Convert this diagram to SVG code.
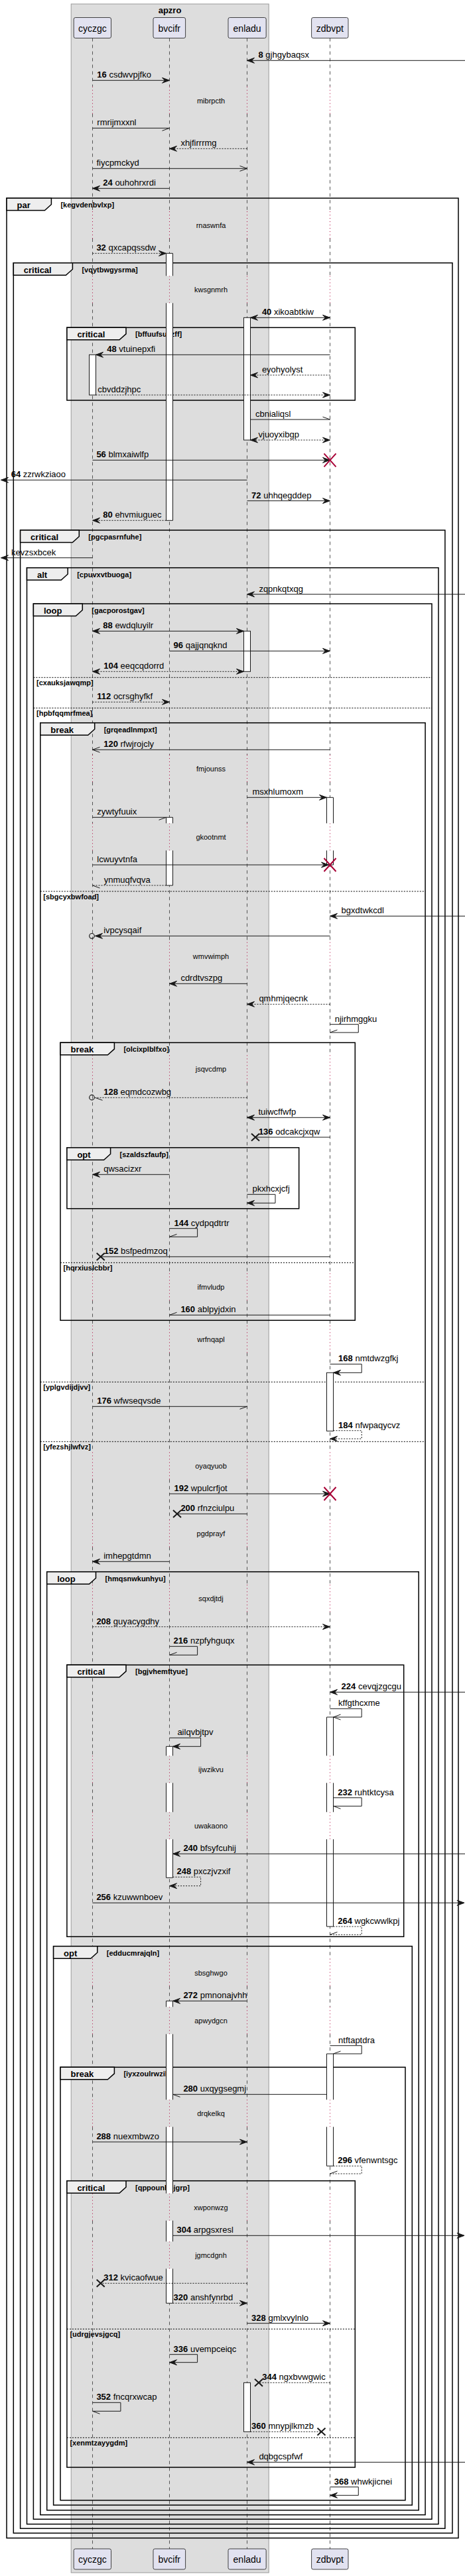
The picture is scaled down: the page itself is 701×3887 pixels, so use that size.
<svg xmlns="http://www.w3.org/2000/svg" xmlns:xlink="http://www.w3.org/1999/xlink" width="701" height="3887" viewBox="0 0 701 3887">
<style>
.t{font-family:"Liberation Sans",Arial,sans-serif;font-size:13px;fill:#000}
.b{font-weight:bold}
.dt{font-family:"Liberation Sans",Arial,sans-serif;font-size:11px;fill:#000;text-anchor:middle}
.pn{font-family:"Liberation Sans",Arial,sans-serif;font-size:14px;fill:#000;text-anchor:middle}
.kw{font-family:"Liberation Sans",Arial,sans-serif;font-size:13px;font-weight:bold;fill:#000}
.cd{font-family:"Liberation Sans",Arial,sans-serif;font-size:11px;font-weight:bold;fill:#000}
.ll{fill:none;stroke:#555;stroke-width:1;stroke-dasharray:5,5}
.dl{fill:none;stroke:#B0003A;stroke-width:1;stroke-dasharray:1,4}
.m{fill:none;stroke:#181818;stroke-width:1}
.d{stroke-dasharray:2,2}
.fr{fill:none;stroke:#000;stroke-width:1.5}
.tab{fill:#EEEEEE;stroke:#000;stroke-width:1.5}
.el{fill:none;stroke:#000;stroke-width:1;stroke-dasharray:2,2}
.aw{fill:#fff;stroke:none}
.as{fill:none;stroke:#181818;stroke-width:1}
.ab{fill:#fff;stroke:#181818;stroke-width:1}
.part{fill:#E2E2F0;stroke:#181818;stroke-width:0.8}
.rx{fill:none;stroke:#A80036;stroke-width:2}
.bx{fill:none;stroke:#181818;stroke-width:2}
</style>
<defs>
<marker id="f" markerUnits="userSpaceOnUse" markerWidth="14" markerHeight="12" refX="11" refY="5" orient="auto" overflow="visible"><path d="M0,1 L11,5 L0,9 L4,5 Z" fill="#181818" stroke="#181818" stroke-width="1"/></marker>
<marker id="fs" markerUnits="userSpaceOnUse" markerWidth="14" markerHeight="12" refX="11" refY="5" orient="auto-start-reverse" overflow="visible"><path d="M0,1 L11,5 L0,9 L4,5 Z" fill="#181818" stroke="#181818" stroke-width="1"/></marker>
<marker id="o" markerUnits="userSpaceOnUse" markerWidth="14" markerHeight="12" refX="11" refY="5" orient="auto" overflow="visible"><path d="M0,1 L11,5 L0,9" fill="none" stroke="#181818" stroke-width="1"/></marker>
<marker id="hp" markerUnits="userSpaceOnUse" markerWidth="14" markerHeight="12" refX="11" refY="5" orient="auto" overflow="visible"><path d="M0,9 L11,5" fill="none" stroke="#181818" stroke-width="1"/></marker>
<marker id="hn" markerUnits="userSpaceOnUse" markerWidth="14" markerHeight="12" refX="11" refY="5" orient="auto" overflow="visible"><path d="M0,1 L11,5" fill="none" stroke="#181818" stroke-width="1"/></marker>
<path id="lld" d="M0,57.5V130.7M0,171.7V319M0,360V416.3M0,457.3V1139M0,1180V1242.3M0,1283.3V1421.7M0,1462.7V1592.3M0,1633.3V1921.3M0,1962.3V2000.3M0,2041.3V2191.3M0,2232.3V2293.3M0,2334.3V2391.3M0,2432.3V2649.3M0,2690.3V2734.3M0,2775.3V2955.7M0,2996.7V3028.3M0,3069.3V3168.3M0,3209.3V3309.7M0,3350.7V3382.3M0,3423.3V3846"/>
<path id="lldot" d="M0,130.7V171.7M0,319V360M0,416.3V457.3M0,1139V1180M0,1242.3V1283.3M0,1421.7V1462.7M0,1592.3V1633.3M0,1921.3V1962.3M0,2000.3V2041.3M0,2191.3V2232.3M0,2293.3V2334.3M0,2391.3V2432.3M0,2649.3V2690.3M0,2734.3V2775.3M0,2955.7V2996.7M0,3028.3V3069.3M0,3168.3V3209.3M0,3309.7V3350.7M0,3382.3V3423.3"/>
</defs>
<rect width="701" height="3887" fill="#fff"/>
<g id="box-apzro">
<rect x="107.2" y="6" width="298" height="3876" fill="#DDDDDD" stroke="#999" stroke-width="1"/>
<text class="kw" x="256" y="19.5" text-anchor="middle">apzro</text>
</g>
<g id="lifelines">
<use href="#lld" class="ll" x="139.5"/><use href="#lld" class="ll" x="255.5"/><use href="#lld" class="ll" x="372.5"/><use href="#lld" class="ll" x="497.5"/>
<use href="#lldot" class="dl" x="139.5"/><use href="#lldot" class="dl" x="255.5"/><use href="#lldot" class="dl" x="372.5"/><use href="#lldot" class="dl" x="497.5"/>
</g>
<g id="delays">
<text class="dt" x="318" y="155.7">mibrpcth</text>
<text class="dt" x="318" y="344">rnaswnfa</text>
<text class="dt" x="318" y="441.3">kwsgnmrh</text>
<text class="dt" x="318" y="1164">fmjounss</text>
<text class="dt" x="318" y="1267.3">gkootnmt</text>
<text class="dt" x="318" y="1446.7">wmvwimph</text>
<text class="dt" x="318" y="1617.3">jsqvcdmp</text>
<text class="dt" x="318" y="1946.3">ifmvludp</text>
<text class="dt" x="318" y="2025.3">wrfnqapl</text>
<text class="dt" x="318" y="2216.3">oyaqyuob</text>
<text class="dt" x="318" y="2318.3">pgdprayf</text>
<text class="dt" x="318" y="2416.3">sqxdjtdj</text>
<text class="dt" x="318" y="2674.3">ijwzikvu</text>
<text class="dt" x="318" y="2759.3">uwakaono</text>
<text class="dt" x="318" y="2980.7">sbsghwgo</text>
<text class="dt" x="318" y="3053.3">apwydgcn</text>
<text class="dt" x="318" y="3193.3">drqkelkq</text>
<text class="dt" x="318" y="3334.7">xwponwzg</text>
<text class="dt" x="318" y="3407.3">jgmcdgnh</text>
</g>
<g id="frames">
<rect class="fr" x="10" y="299" width="681" height="3530.7"/><path class="tab" d="M10,299H77.4V308.5L67.4,317.5H10Z"/><text class="kw" x="25.5" y="314">par</text><text class="cd" x="91.4" y="313">[kegvdenbvlxp]</text>
<rect class="fr" x="20.3" y="396.7" width="661.7" height="3425.6"/><path class="tab" d="M20.3,396.7H109.4V406.2L99.4,415.2H20.3Z"/><text class="kw" x="35.8" y="411.7">critical</text><text class="cd" x="123.4" y="410.7">[vqytbwgysrma]</text>
<rect class="fr" x="100.9" y="494.3" width="434.4" height="109.7"/><path class="tab" d="M100.9,494.3H190V503.8L180,512.8H100.9Z"/><text class="kw" x="116.4" y="509.3">critical</text><text class="cd" x="204" y="508.3">[bffuufsuvzff]</text>
<rect class="fr" x="30.6" y="800" width="640.3" height="3015.3"/><path class="tab" d="M30.6,800H119.3V809.5L109.3,818.5H30.6Z"/><text class="kw" x="46.1" y="815">critical</text><text class="cd" x="133.3" y="814">[pgcpasrnfuhe]</text>
<rect class="fr" x="40.5" y="856.7" width="620.5" height="2952"/><path class="tab" d="M40.5,856.7H102.2V866.2L92.2,875.2H40.5Z"/><text class="kw" x="56" y="871.7">alt</text><text class="cd" x="116.2" y="870.7">[cpuvxvtbuoga]</text>
<rect class="fr" x="50.4" y="911" width="600.6" height="2890.3"/><path class="tab" d="M50.4,911H124.3V920.5L114.3,929.5H50.4Z"/><text class="kw" x="65.9" y="926">loop</text><text class="cd" x="138.3" y="925">[gacporostgav]</text>
<line class="el" x1="50.4" y1="1022.3" x2="651" y2="1022.3"/><text class="cd" x="55" y="1034.3">[cxauksjawqmp]</text>
<line class="el" x1="50.4" y1="1068.3" x2="651" y2="1068.3"/><text class="cd" x="55" y="1080.3">[hpbfqqmrfmea]</text>
<rect class="fr" x="60.8" y="1090.7" width="580.3" height="2704"/><path class="tab" d="M60.8,1090.7H142.7V1100.2L132.7,1109.2H60.8Z"/><text class="kw" x="76.3" y="1105.7">break</text><text class="cd" x="156.7" y="1104.7">[grqeadlnmpxt]</text>
<line class="el" x1="60.8" y1="1345" x2="641.1" y2="1345"/><text class="cd" x="65.3" y="1357">[sbgcyxbwfoad]</text>
<line class="el" x1="60.8" y1="2085.3" x2="641.1" y2="2085.3"/><text class="cd" x="65.3" y="2097.3">[yplgvdijdjvv]</text>
<line class="el" x1="60.8" y1="2175.3" x2="641.1" y2="2175.3"/><text class="cd" x="65.3" y="2187.3">[yfezshjlwfvz]</text>
<rect class="fr" x="91" y="1573.3" width="444.3" height="419"/><path class="tab" d="M91,1573.3H172.4V1582.8L162.4,1591.8H91Z"/><text class="kw" x="106.5" y="1588.3">break</text><text class="cd" x="186.4" y="1587.3">[olcixplblfxo]</text>
<line class="el" x1="91" y1="1905.3" x2="535.3" y2="1905.3"/><text class="cd" x="95.5" y="1917.3">[hqrxiuslcbbr]</text>
<rect class="fr" x="100.9" y="1731.7" width="349.8" height="92"/><path class="tab" d="M100.9,1731.7H166.6V1741.2L156.6,1750.2H100.9Z"/><text class="kw" x="116.4" y="1746.7">opt</text><text class="cd" x="180.6" y="1745.7">[szaldszfaufp]</text>
<rect class="fr" x="70.7" y="2371.7" width="560.5" height="1416"/><path class="tab" d="M70.7,2371.7H144.5V2381.2L134.5,2390.2H70.7Z"/><text class="kw" x="86.2" y="2386.7">loop</text><text class="cd" x="158.5" y="2385.7">[hmqsnwkunhyu]</text>
<rect class="fr" x="100.9" y="2512.3" width="507.8" height="410"/><path class="tab" d="M100.9,2512.3H190V2521.8L180,2530.8H100.9Z"/><text class="kw" x="116.4" y="2527.3">critical</text><text class="cd" x="204" y="2526.3">[bgjvhemftyue]</text>
<rect class="fr" x="80.6" y="2936.7" width="540.7" height="843.3"/><path class="tab" d="M80.6,2936.7H146.8V2946.2L136.8,2955.2H80.6Z"/><text class="kw" x="96.1" y="2951.7">opt</text><text class="cd" x="160.8" y="2950.7">[edducmrajqln]</text>
<rect class="fr" x="91" y="3119.3" width="520" height="653.4"/><path class="tab" d="M91,3119.3H172.4V3128.8L162.4,3137.8H91Z"/><text class="kw" x="106.5" y="3134.3">break</text><text class="cd" x="186.4" y="3133.3">[iyxzoulrwzik]</text>
<rect class="fr" x="100.9" y="3290.7" width="434.4" height="432.3"/><path class="tab" d="M100.9,3290.7H190V3300.2L180,3309.2H100.9Z"/><text class="kw" x="116.4" y="3305.7">critical</text><text class="cd" x="204" y="3304.7">[qppounhojgrp]</text>
<line class="el" x1="100.9" y1="3514.3" x2="535.3" y2="3514.3"/><text class="cd" x="105.4" y="3526.3">[udrgjevsjgcq]</text>
<line class="el" x1="100.9" y1="3678.3" x2="535.3" y2="3678.3"/><text class="cd" x="105.4" y="3690.3">[xenmtzayygdm]</text>
</g>
<g id="activations">
<rect class="aw" x="250.5" y="382.3" width="10" height="34"/><path class="as" d="M250.5,416.3V382.3H260.5V416.3"/>
<rect class="aw" x="250.5" y="457.3" width="10" height="328"/><path class="as" d="M250.5,457.3V785.3H260.5V457.3"/>
<rect class="aw" x="250.5" y="1233.3" width="10" height="9"/><path class="as" d="M250.5,1242.3V1233.3H260.5V1242.3"/>
<rect class="aw" x="250.5" y="1283.3" width="10" height="52.7"/><path class="as" d="M250.5,1283.3V1336H260.5V1283.3"/>
<rect class="aw" x="250.5" y="2635.3" width="10" height="14"/><path class="as" d="M250.5,2649.3V2635.3H260.5V2649.3"/>
<rect class="aw" x="250.5" y="2690.3" width="10" height="44"/><path class="as" d="M250.5,2690.3V2734.3M260.5,2690.3V2734.3"/>
<rect class="aw" x="250.5" y="2775.3" width="10" height="58"/><path class="as" d="M250.5,2775.3V2833.3H260.5V2775.3"/>
<rect class="aw" x="250.5" y="3019.3" width="10" height="9"/><path class="as" d="M250.5,3028.3V3019.3H260.5V3028.3"/>
<rect class="aw" x="250.5" y="3069.3" width="10" height="99"/><path class="as" d="M250.5,3069.3V3168.3M260.5,3069.3V3168.3"/>
<rect class="aw" x="250.5" y="3209.3" width="10" height="100.4"/><path class="as" d="M250.5,3209.3V3309.7M260.5,3209.3V3309.7"/>
<rect class="aw" x="250.5" y="3350.7" width="10" height="31.6"/><path class="as" d="M250.5,3350.7V3382.3M260.5,3350.7V3382.3"/>
<rect class="aw" x="250.5" y="3423.3" width="10" height="52"/><path class="as" d="M250.5,3423.3V3475.3H260.5V3423.3"/>
<rect class="ab" x="367.5" y="479.3" width="10" height="184.7"/>
<rect class="ab" x="367.5" y="952.3" width="10" height="61"/>
<rect class="ab" x="367.5" y="3595.3" width="10" height="74"/>
<rect class="ab" x="134.5" y="535.3" width="10" height="60.7"/>
<rect class="aw" x="492.5" y="1203.3" width="10" height="39"/><path class="as" d="M492.5,1242.3V1203.3H502.5V1242.3"/>
<rect class="aw" x="492.5" y="1283.3" width="10" height="21.7"/><path class="as" d="M492.5,1283.3V1305H502.5V1283.3"/>
<rect class="ab" x="492.5" y="2071.3" width="10" height="88"/>
<rect class="aw" x="492.5" y="2591" width="10" height="58.3"/><path class="as" d="M492.5,2649.3V2591H502.5V2649.3"/>
<rect class="aw" x="492.5" y="2690.3" width="10" height="44"/><path class="as" d="M492.5,2690.3V2734.3M502.5,2690.3V2734.3"/>
<rect class="aw" x="492.5" y="2775.3" width="10" height="131.7"/><path class="as" d="M492.5,2775.3V2907H502.5V2775.3"/>
<rect class="aw" x="492.5" y="3099" width="10" height="69.3"/><path class="as" d="M492.5,3168.3V3099H502.5V3168.3"/>
<rect class="aw" x="492.5" y="3209.3" width="10" height="59"/><path class="as" d="M492.5,3209.3V3268.3H502.5V3209.3"/>
</g>
<g id="connectors">
<line class="m" x1="701" y1="91.3" x2="372.5" y2="91.3" marker-end="url(#f)"/><text class="t" x="389.5" y="87.3"><tspan class="b">8</tspan> gjhgybaqsx</text>
<line class="m" x1="139.5" y1="121.3" x2="255.5" y2="121.3" marker-end="url(#f)"/><text class="t" x="146.3" y="117.3"><tspan class="b">16</tspan> csdwvpjfko</text>
<line class="m" x1="139.5" y1="193.3" x2="255.5" y2="193.3" marker-end="url(#hp)"/><text class="t" x="146.3" y="189.3">rmrijmxxnl</text>
<line class="m d" x1="372.5" y1="224.3" x2="255.5" y2="224.3" marker-end="url(#f)"/><text class="t" x="272.4" y="220.3">xhjfirrrmg</text>
<line class="m" x1="139.5" y1="254.3" x2="372.5" y2="254.3" marker-end="url(#o)"/><text class="t" x="145.4" y="250.3">fiycpmckyd</text>
<line class="m" x1="255.5" y1="284.3" x2="139.5" y2="284.3" marker-end="url(#f)"/><text class="t" x="155.3" y="280.3"><tspan class="b">24</tspan> ouhohrxrdi</text>
<line class="m d" x1="139.5" y1="382.3" x2="250.5" y2="382.3" marker-end="url(#f)"/><text class="t" x="145.4" y="378.3"><tspan class="b">32</tspan> qxcapqssdw</text>
<line class="m" x1="377.5" y1="479.3" x2="497.5" y2="479.3" marker-start="url(#fs)" marker-end="url(#fs)"/><text class="t" x="394.9" y="475.3"><tspan class="b">40</tspan> xikoabtkiw</text>
<line class="m" x1="497.5" y1="535.3" x2="144.5" y2="535.3" marker-end="url(#f)"/><text class="t" x="161.2" y="531.3"><tspan class="b">48</tspan> vtuinepxfi</text>
<line class="m d" x1="497.5" y1="566" x2="377.5" y2="566" marker-end="url(#f)"/><text class="t" x="394.9" y="562">eyohyolyst</text>
<line class="m d" x1="144.5" y1="596" x2="497.5" y2="596" marker-end="url(#f)"/><text class="t" x="147.2" y="592">cbvddzjhpc</text>
<line class="m" x1="377.5" y1="633" x2="497.5" y2="633" marker-end="url(#hn)"/><text class="t" x="385" y="629">cbnialiqsl</text>
<line class="m d" x1="377.5" y1="664" x2="497.5" y2="664" marker-start="url(#fs)" marker-end="url(#fs)"/><text class="t" x="389.5" y="660">vjuoyxibgp</text>
<line class="m" x1="139.5" y1="694.3" x2="497.5" y2="694.3" marker-end="url(#f)"/><path class="rx" d="M488.5,684.3L506.5,704.3M506.5,684.3L488.5,704.3"/><text class="t" x="145.4" y="690.3"><tspan class="b">56</tspan> blmxaiwlfp</text>
<line class="m" x1="372.5" y1="724.3" x2="1.5" y2="724.3" marker-end="url(#f)"/><text class="t" x="16.7" y="720.3"><tspan class="b">64</tspan> zzrwkziaoo</text>
<line class="m" x1="372.5" y1="755.7" x2="497.5" y2="755.7" marker-end="url(#f)"/><text class="t" x="379.1" y="751.7"><tspan class="b">72</tspan> uhhqegddep</text>
<line class="m d" x1="250.5" y1="785.3" x2="139.5" y2="785.3" marker-end="url(#f)"/><text class="t" x="155.3" y="781.3"><tspan class="b">80</tspan> ehvmiuguec</text>
<line class="m" x1="139.5" y1="841.7" x2="1.5" y2="841.7" marker-end="url(#f)"/><text class="t" x="17.1" y="837.7">kevzsxbcek</text>
<line class="m" x1="701" y1="896.7" x2="372.5" y2="896.7" marker-end="url(#f)"/><text class="t" x="390.4" y="892.7">zqpnkqtxqg</text>
<line class="m" x1="139.5" y1="952.3" x2="367.5" y2="952.3" marker-start="url(#fs)" marker-end="url(#fs)"/><text class="t" x="155.3" y="948.3"><tspan class="b">88</tspan> ewdqluyilr</text>
<line class="m" x1="255.5" y1="982.3" x2="497.5" y2="982.3" marker-end="url(#f)"/><text class="t" x="261.6" y="978.3"><tspan class="b">96</tspan> qajjqnqknd</text>
<line class="m d" x1="139.5" y1="1013.3" x2="367.5" y2="1013.3" marker-start="url(#fs)" marker-end="url(#fs)"/><text class="t" x="156.2" y="1009.3"><tspan class="b">104</tspan> eeqcqdorrd</text>
<line class="m d" x1="139.5" y1="1059.3" x2="255.5" y2="1059.3" marker-end="url(#f)"/><text class="t" x="146.3" y="1055.3"><tspan class="b">112</tspan> ocrsghyfkf</text>
<line class="m" x1="497.5" y1="1131.3" x2="139.5" y2="1131.3" marker-end="url(#o)"/><text class="t" x="156.2" y="1127.3"><tspan class="b">120</tspan> rfwjrojcly</text>
<line class="m" x1="372.5" y1="1203.3" x2="492.5" y2="1203.3" marker-end="url(#f)"/><text class="t" x="380.5" y="1199.3">msxhlumoxm</text>
<line class="m" x1="139.5" y1="1233.3" x2="250.5" y2="1233.3" marker-end="url(#hp)"/><text class="t" x="146.3" y="1229.3">zywtyfuuix</text>
<line class="m" x1="139.5" y1="1305" x2="495.5" y2="1305" marker-end="url(#f)"/><path class="rx" d="M488.5,1295L506.5,1315M506.5,1295L488.5,1315"/><text class="t" x="146.3" y="1301">lcwuyvtnfa</text>
<line class="m d" x1="250.5" y1="1336" x2="139.5" y2="1336" marker-end="url(#hn)"/><text class="t" x="156.7" y="1332">ynmuqfvqva</text>
<line class="m" x1="701" y1="1382.3" x2="497.5" y2="1382.3" marker-end="url(#f)"/><text class="t" x="514.6" y="1378.3">bgxdtwkcdl</text>
<line class="m" x1="497.5" y1="1412.3" x2="143.5" y2="1412.3" marker-end="url(#f)"/><circle cx="138.5" cy="1412.3" r="3.8" fill="none" stroke="#181818" stroke-width="1.2"/><text class="t" x="156.2" y="1408.3">ivpcysqaif</text>
<line class="m" x1="372.5" y1="1484.3" x2="255.5" y2="1484.3" marker-end="url(#f)"/><text class="t" x="272.4" y="1480.3">cdrdtvszpg</text>
<line class="m d" x1="497.5" y1="1515.3" x2="372.5" y2="1515.3" marker-end="url(#f)"/><text class="t" x="390.4" y="1511.3">qmhmjqecnk</text>
<path class="m" d="M497.5,1545.7H540.3V1558H497.5" marker-end="url(#hp)"/><text class="t" x="504.7" y="1541.7">njirhmggku</text>
<line class="m d" x1="372.5" y1="1656.3" x2="143.5" y2="1656.3" marker-end="url(#hn)"/><circle cx="138.5" cy="1656" r="3.8" fill="none" stroke="#181818" stroke-width="1.2"/><text class="t" x="156.2" y="1652.3"><tspan class="b">128</tspan> eqmdcozwbg</text>
<line class="m" x1="372.5" y1="1686.3" x2="497.5" y2="1686.3" marker-start="url(#fs)" marker-end="url(#fs)"/><text class="t" x="389.5" y="1682.3">tuiwcffwfp</text>
<line class="m" x1="497.5" y1="1716" x2="385" y2="1716"/><path class="bx" d="M379,1710.5L391,1721.5M391,1710.5L379,1721.5"/><text class="t" x="389.9" y="1712"><tspan class="b">136</tspan> odcakcjxqw</text>
<line class="m" x1="255.5" y1="1772.3" x2="139.5" y2="1772.3" marker-end="url(#f)"/><text class="t" x="156.2" y="1768.3">qwsacizxr</text>
<path class="m" d="M372.5,1802.3H415V1815.3H372.5" marker-end="url(#f)"/><text class="t" x="380.5" y="1798.3">pkxhcxjcfj</text>
<path class="m" d="M255.5,1853.7H297.6V1866.3H255.5" marker-end="url(#hp)"/><text class="t" x="262.5" y="1849.7"><tspan class="b">144</tspan> cydpqdtrtr</text>
<line class="m" x1="497.5" y1="1896.3" x2="151.7" y2="1896.3"/><path class="bx" d="M145.7,1890.8L157.7,1901.8M157.7,1890.8L145.7,1901.8"/><text class="t" x="156.7" y="1892.3"><tspan class="b">152</tspan> bsfpedmzoq</text>
<line class="m" x1="497.5" y1="1984.3" x2="255.5" y2="1984.3" marker-end="url(#hp)"/><text class="t" x="272.4" y="1980.3"><tspan class="b">160</tspan> ablpyjdxin</text>
<path class="m" d="M497.5,2058.3H545.2V2071.3H502.5" marker-end="url(#f)"/><text class="t" x="510.1" y="2054.3"><tspan class="b">168</tspan> nmtdwzgfkj</text>
<line class="m" x1="139.5" y1="2122.3" x2="372.5" y2="2122.3" marker-end="url(#hp)"/><text class="t" x="146.3" y="2118.3"><tspan class="b">176</tspan> wfwseqvsde</text>
<path class="m d" d="M502.5,2158.7H545.2V2171H497.5" marker-end="url(#f)"/><text class="t" x="510.1" y="2154.7"><tspan class="b">184</tspan> nfwpaqycvz</text>
<line class="m" x1="255.5" y1="2254" x2="497.5" y2="2254" marker-end="url(#f)"/><path class="rx" d="M488.5,2244L506.5,2264M506.5,2244L488.5,2264"/><text class="t" x="262.5" y="2250"><tspan class="b">192</tspan> wpulcrfjot</text>
<line class="m" x1="372.5" y1="2284.3" x2="267" y2="2284.3"/><path class="bx" d="M261,2278.8L273,2289.8M273,2278.8L261,2289.8"/><text class="t" x="272.4" y="2280.3"><tspan class="b">200</tspan> rfnzciulpu</text>
<line class="m" x1="255.5" y1="2356.3" x2="139.5" y2="2356.3" marker-end="url(#f)"/><text class="t" x="156.2" y="2352.3">imhepgtdmn</text>
<line class="m d" x1="139.5" y1="2454.7" x2="497.5" y2="2454.7" marker-end="url(#f)"/><text class="t" x="145.4" y="2450.7"><tspan class="b">208</tspan> guyacygdhy</text>
<path class="m" d="M255.5,2484.3H297.6V2497.3H255.5" marker-end="url(#hp)"/><text class="t" x="261.6" y="2480.3"><tspan class="b">216</tspan> nzpfyhguqx</text>
<line class="m" x1="701" y1="2553.3" x2="497.5" y2="2553.3" marker-end="url(#f)"/><text class="t" x="514.6" y="2549.3"><tspan class="b">224</tspan> cevqjzgcgu</text>
<path class="m" d="M497.5,2578.3H545.2V2591H502.5" marker-end="url(#o)"/><text class="t" x="510.1" y="2574.3">kffgthcxme</text>
<path class="m" d="M255.5,2622.3H302.6V2635.3H260.5" marker-end="url(#f)"/><text class="t" x="267.4" y="2618.3">ailqvbjtpv</text>
<path class="m" d="M502.5,2712.7H545.2V2725.3H502.5" marker-end="url(#hn)"/><text class="t" x="509.2" y="2708.7"><tspan class="b">232</tspan> ruhtktcysa</text>
<line class="m" x1="701" y1="2797.3" x2="260.5" y2="2797.3" marker-end="url(#f)"/><text class="t" x="276.4" y="2793.3"><tspan class="b">240</tspan> bfsyfcuhij</text>
<path class="m d" d="M260.5,2832.3H302.6V2845.7H255.5" marker-end="url(#f)"/><text class="t" x="266.5" y="2828.3"><tspan class="b">248</tspan> pxczjvzxif</text>
<line class="m" x1="139.5" y1="2871.3" x2="700" y2="2871.3" marker-end="url(#f)"/><text class="t" x="145.4" y="2867.3"><tspan class="b">256</tspan> kzuwwnboev</text>
<path class="m d" d="M502.5,2907H545.2V2919.3H497.5" marker-end="url(#hp)"/><text class="t" x="509.2" y="2903"><tspan class="b">264</tspan> wgkcwwlkpj</text>
<line class="m" x1="372.5" y1="3019.3" x2="260.5" y2="3019.3" marker-end="url(#f)"/><text class="t" x="276.4" y="3015.3"><tspan class="b">272</tspan> pmnonajvhh</text>
<path class="m" d="M497.5,3086.7H545.2V3099H502.5" marker-end="url(#hp)"/><text class="t" x="510.1" y="3082.7">ntftaptdra</text>
<line class="m" x1="492.5" y1="3160.3" x2="260.5" y2="3160.3" marker-end="url(#hn)"/><text class="t" x="276.4" y="3156.3"><tspan class="b">280</tspan> uxqygsegmj</text>
<line class="m" x1="139.5" y1="3232" x2="372.5" y2="3232" marker-end="url(#f)"/><text class="t" x="145.4" y="3228"><tspan class="b">288</tspan> nuexmbwzo</text>
<path class="m d" d="M502.5,3268.3H545.2V3280H497.5" marker-end="url(#hp)"/><text class="t" x="509.2" y="3264.3"><tspan class="b">296</tspan> vfenwntsgc</text>
<line class="m" x1="260.5" y1="3373.3" x2="700" y2="3373.3" marker-end="url(#f)"/><text class="t" x="266.5" y="3369.3"><tspan class="b">304</tspan> arpgsxresl</text>
<line class="m d" x1="372.5" y1="3445.3" x2="151.7" y2="3445.3"/><path class="bx" d="M145.7,3439.8L157.7,3450.8M157.7,3439.8L145.7,3450.8"/><text class="t" x="156.2" y="3441.3"><tspan class="b">312</tspan> kvicaofwue</text>
<line class="m d" x1="260.5" y1="3475.3" x2="372.5" y2="3475.3" marker-end="url(#f)"/><text class="t" x="261.6" y="3471.3"><tspan class="b">320</tspan> anshfynrbd</text>
<line class="m" x1="372.5" y1="3505.7" x2="497.5" y2="3505.7" marker-end="url(#f)"/><text class="t" x="379.1" y="3501.7"><tspan class="b">328</tspan> gmlxvylnlo</text>
<path class="m" d="M255.5,3552.7H297.6V3564.7H255.5" marker-end="url(#f)"/><text class="t" x="261.6" y="3548.7"><tspan class="b">336</tspan> uvempceiqc</text>
<line class="m d" x1="497.5" y1="3595.3" x2="390" y2="3595.3"/><path class="bx" d="M384,3589.8L396,3600.8M396,3589.8L384,3600.8"/><text class="t" x="395.3" y="3591.3"><tspan class="b">344</tspan> ngxbvwgwic</text>
<path class="m" d="M139.5,3625.3H181.9V3638.3H139.5" marker-end="url(#hn)"/><text class="t" x="145.4" y="3621.3"><tspan class="b">352</tspan> fncqrxwcap</text>
<line class="m d" x1="377.5" y1="3669.3" x2="484.5" y2="3669.3"/><path class="bx" d="M478.5,3663.8L490.5,3674.8M490.5,3663.8L478.5,3674.8"/><text class="t" x="379.1" y="3665.3"><tspan class="b">360</tspan> mnypjlkmzb</text>
<line class="m" x1="701" y1="3715.3" x2="372.5" y2="3715.3" marker-end="url(#f)"/><text class="t" x="390.4" y="3711.3">dqbgcspfwf</text>
<path class="m" d="M497.5,3752.7H540.3V3765.3H497.5" marker-end="url(#f)"/><text class="t" x="503.8" y="3748.7"><tspan class="b">368</tspan> whwkjicnei</text>
</g>
<g id="p-cyczgc"><rect class="part" x="111.2" y="26.5" width="56.3" height="31" rx="2.5"/><text class="pn" x="139.4" y="47.5">cyczgc</text><rect class="part" x="111.2" y="3846" width="56.3" height="31" rx="2.5"/><text class="pn" x="139.4" y="3866.5">cyczgc</text></g>
<g id="p-bvcifr"><rect class="part" x="231" y="26.5" width="48.6" height="31" rx="2.5"/><text class="pn" x="255.3" y="47.5">bvcifr</text><rect class="part" x="231" y="3846" width="48.6" height="31" rx="2.5"/><text class="pn" x="255.3" y="3866.5">bvcifr</text></g>
<g id="p-enladu"><rect class="part" x="344" y="26.5" width="57.2" height="31" rx="2.5"/><text class="pn" x="372.6" y="47.5">enladu</text><rect class="part" x="344" y="3846" width="57.2" height="31" rx="2.5"/><text class="pn" x="372.6" y="3866.5">enladu</text></g>
<g id="p-zdbvpt"><rect class="part" x="469.6" y="26.5" width="55.4" height="31" rx="2.5"/><text class="pn" x="497.3" y="47.5">zdbvpt</text><rect class="part" x="469.6" y="3846" width="55.4" height="31" rx="2.5"/><text class="pn" x="497.3" y="3866.5">zdbvpt</text></g>
</svg>
